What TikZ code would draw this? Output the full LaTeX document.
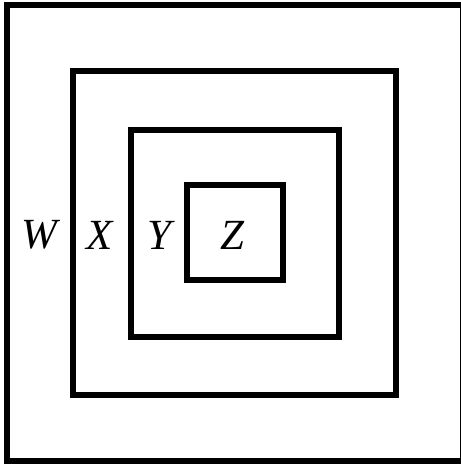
\documentclass[tikz,border=0pt]{standalone}
\usepackage{fontspec}
\setmainfont{Liberation Serif}

\begin{document}
\begin{tikzpicture}[
  x=1pt, y=-1pt,
  sq/.style={draw, line width=6pt, line join=miter},
  lbl/.style={font=\fontsize{43}{48}\selectfont\itshape, inner sep=0pt},
]

% ── Canvas ───────────────────────────────────────────────────────────────────
\useasboundingbox (0,0) rectangle (461,464);

% ── Nested squares (outer to inner) ──────────────────────────────────────────
\draw[sq] (7,5)     rectangle (462.5,461);   % W
\draw[sq] (73,71)   rectangle (396,395);     % X
\draw[sq] (131,130) rectangle (339,337);     % Y
\draw[sq] (187,185) rectangle (283,280);     % Z

% ── Region labels ────────────────────────────────────────────────────────────
\node[lbl] (W) at (39,235)  {W};
\node[lbl] (X) at (100,235) {X};
\node[lbl] (Y) at (159,235) {Y};
\node[lbl] (Z) at (232,235) {Z};

\end{tikzpicture}
\end{document}
